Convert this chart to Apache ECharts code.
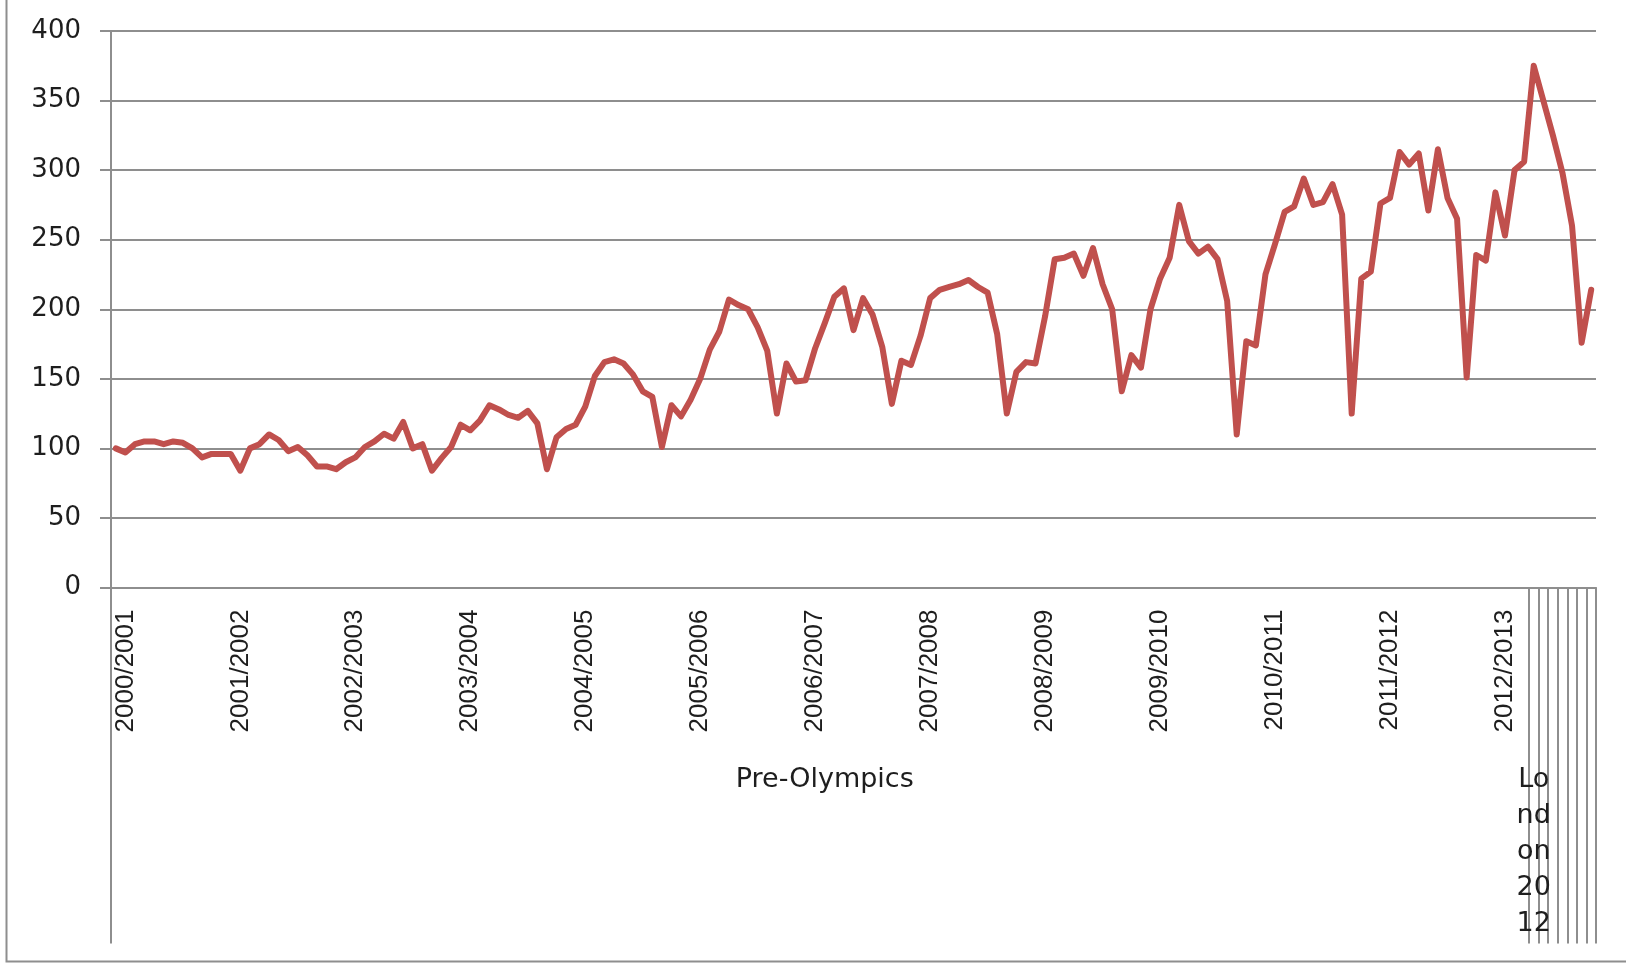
<!DOCTYPE html>
<html>
<head>
<meta charset="utf-8">
<script src="https://cdn.jsdelivr.net/npm/echarts@6/dist/echarts.min.js"></script>
<style>
  html, body { margin: 0; padding: 0; background: #ffffff; }
  #chart { width: 1626px; height: 965px; }
</style>
</head>
<body>
<div id="chart"></div>
<script>
// ---- Data (monthly index values, Mar 2000 .. Jan 2013) ----
const yearLabels = ['2000/2001','2001/2002','2002/2003','2003/2004','2004/2005','2005/2006',
  '2006/2007','2007/2008','2008/2009','2009/2010','2010/2011','2011/2012','2012/2013'];

const values = [
  100, 97, 103, 105, 105, 103, 105, 104, 100, 93.5,
  96, 96, 96, 84, 100, 103, 110, 106, 98, 101,
  95, 87, 87, 85, 90, 93.5, 101, 105, 110.5, 107,
  119, 100, 103, 84, 93, 101, 117, 113, 120, 131,
  128, 124, 122, 127, 118, 85, 108, 114, 117, 130,
  152, 162, 164, 161, 153, 141, 137, 101, 131, 123,
  135, 150, 171, 184, 207, 203, 200, 187, 170, 125,
  161, 148, 149, 172, 190, 209, 215, 185, 208, 196,
  173, 132, 163, 160, 181, 208, 214, 216, 218, 221,
  216, 212, 182, 125, 155, 162, 161, 195, 236, 237,
  240, 224, 244, 218, 200, 141, 167, 158, 200, 222,
  237, 275, 249, 240, 245, 236, 206, 110, 177, 174,
  225, 247, 270, 274, 294, 275, 277, 290, 268, 125,
  222, 227, 276, 280, 313, 304, 312, 271, 315, 280,
  265, 151, 239, 235, 284, 253, 300, 306, 375, 350,
  325, 298, 260, 176, 214
];

const groupLabels = ['Pre-Olympics', 'London 2012'];
const groupSizes = [148, 7];
const groupLabelIndex = [74, 148];

const yTicks = { min: 0, max: 400, interval: 50 };

// category names: one per month starting March 2000
const categories = values.map((_, i) => {
  const m = 2 + i;
  return (2000 + Math.floor(m / 12)) + '-' + String(m % 12 + 1).padStart(2, '0');
});

const grey = '#8e8e8e';
const textColor = '#1e1e1e';

const chart = echarts.init(document.getElementById('chart'));
chart.setOption({
  animation: false,
  backgroundColor: '#ffffff',
  grid: { left: 111, right: 30, top: 31, bottom: 377.5, containLabel: false },
  xAxis: [
    {
      type: 'category',
      data: categories,
      boundaryGap: true,
      position: 'bottom',
      axisLine: { show: true, lineStyle: { color: grey, width: 2 } },
      axisTick: { show: false },
      splitLine: { show: false },
      axisLabel: {
        rotate: 90,
        margin: 22,
        interval: (idx) => idx % 12 === 1,
        formatter: (val, idx) => yearLabels[(idx - 1) / 12] || '',
        fontFamily: 'Liberation Sans',
        fontSize: 26,
        color: textColor
      }
    },
    {
      type: 'category',
      data: categories,
      boundaryGap: true,
      position: 'bottom',
      offset: 0,
      axisLine: { show: false },
      axisTick: {
        show: true,
        length: 356,
        interval: (idx) => idx === 0 || idx >= groupSizes[0],
        lineStyle: { color: grey, width: 2 }
      },
      splitLine: { show: false },
      axisLabel: {
        margin: 174,
        interval: (idx) => groupLabelIndex.indexOf(idx) >= 0,
        formatter: (val, idx) => {
          const g = groupLabelIndex.indexOf(idx);
          if (g < 0) return '';
          if (g === 0) return groupLabels[0];
          return groupLabels[g].replace(/ /g, '').match(/.{1,2}/g).join('\n');
        },
        fontFamily: 'DejaVu Sans',
        fontSize: 27,
        lineHeight: 36,
        color: textColor
      }
    }
  ],
  yAxis: {
    type: 'value',
    min: yTicks.min,
    max: yTicks.max,
    interval: yTicks.interval,
    axisLine: { show: true, lineStyle: { color: grey, width: 2 } },
    axisTick: { show: true, length: 11, lineStyle: { color: grey, width: 2 } },
    splitLine: { show: true, lineStyle: { color: grey, width: 2 } },
    axisLabel: {
      margin: 30,
      fontFamily: 'DejaVu Sans',
      fontSize: 26,
      color: textColor
    }
  },
  series: [{
    type: 'line',
    data: values,
    xAxisIndex: 0,
    showSymbol: false,
    symbol: 'none',
    lineStyle: { color: '#C0504D', width: 6, join: 'round', cap: 'round' },
    itemStyle: { color: '#C0504D' },
    z: 5
  }],
  graphic: [{
    type: 'rect',
    left: 4,
    top: -20,
    shape: { width: 1700, height: 979 },
    style: { fill: 'none', stroke: grey, lineWidth: 2 },
    silent: true
  }]
});
</script>
</body>
</html>
